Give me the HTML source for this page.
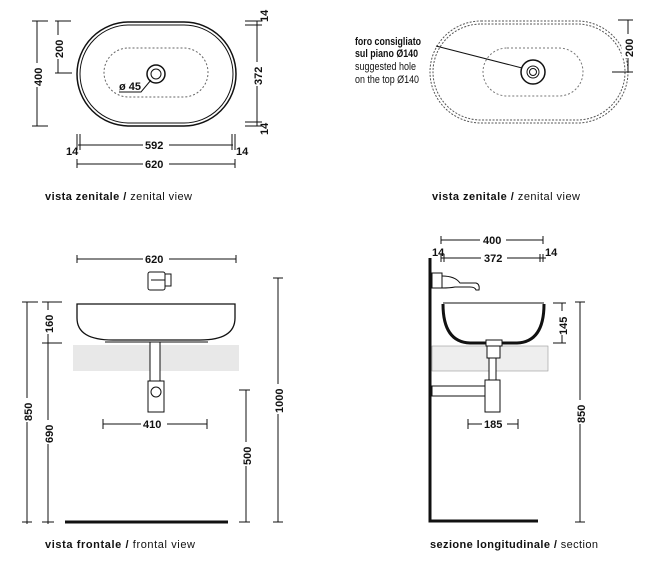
<!DOCTYPE html>
<html><head><meta charset="utf-8"><style>
body{margin:0;background:#fff;width:670px;height:565px;overflow:hidden}
text{font-family:"Liberation Sans",sans-serif;font-size:11px;fill:#111}
.b{font-weight:bold}
</style></head><body>
<svg width="670" height="565" viewBox="0 0 670 565" stroke="#111" fill="none" stroke-width="1">
<!-- TOP LEFT -->
<rect x="77" y="22" width="159" height="104" rx="52" stroke-width="1.5"/>
<rect x="80" y="25" width="153" height="98" rx="49"/>
<rect x="104" y="48" width="104" height="49" rx="24.5" stroke-dasharray="2,2" stroke="#666"/>
<circle cx="156" cy="74" r="9" stroke-width="1.5"/><circle cx="156" cy="74" r="5"/>
<polyline points="119,92 141,92 151,80"/>
<text x="119" y="90" stroke="none" class="b" font-size="12">ø 45</text>
<line x1="37" y1="21" x2="37" y2="126"/><line x1="32" y1="21" x2="48" y2="21"/><line x1="32" y1="126" x2="48" y2="126"/>
<line x1="58" y1="21" x2="58" y2="73"/><line x1="55" y1="21" x2="71" y2="21"/><line x1="55" y1="73" x2="72" y2="73"/>
<line x1="257" y1="21" x2="257" y2="126"/><line x1="245" y1="21" x2="262" y2="21"/><line x1="245" y1="25" x2="262" y2="25"/><line x1="245" y1="122" x2="262" y2="122"/><line x1="245" y1="126" x2="262" y2="126"/>
<line x1="78" y1="145" x2="233" y2="145"/><line x1="77" y1="134" x2="77" y2="150"/><line x1="80" y1="134" x2="80" y2="150"/><line x1="232" y1="134" x2="232" y2="150"/><line x1="235" y1="134" x2="235" y2="150"/>
<line x1="77" y1="164" x2="235" y2="164"/><line x1="77" y1="159" x2="77" y2="168"/><line x1="235" y1="159" x2="235" y2="168"/>
<g stroke="none">
<rect x="31" y="63" width="12" height="24" fill="#fff"/><rect x="52" y="35" width="12" height="24" fill="#fff"/><rect x="251" y="62" width="12" height="24" fill="#fff"/>
<rect x="143" y="139" width="26" height="12" fill="#fff"/><rect x="143" y="158" width="26" height="12" fill="#fff"/>
<text transform="translate(42,86) rotate(-90)" class="b">400</text>
<text transform="translate(63,58) rotate(-90)" class="b">200</text>
<text transform="translate(262,85) rotate(-90)" class="b">372</text>
<text transform="translate(268,22) rotate(-90)" class="b" font-size="9">14</text>
<text transform="translate(268,135) rotate(-90)" class="b" font-size="9">14</text>
<text x="145" y="149" class="b">592</text><text x="145" y="168" class="b">620</text>
<text x="66" y="155" class="b" font-size="9">14</text><text x="236" y="155" class="b" font-size="9">14</text>
<text x="45" y="200" class="b" font-size="12" textLength="147">vista zenitale /<tspan font-weight="normal"> zenital view</tspan></text>
</g>
<!-- TOP RIGHT -->
<rect x="430" y="21" width="198" height="102" rx="51" stroke-dasharray="2,1.5" stroke="#555"/>
<rect x="433" y="24" width="192" height="96" rx="48" stroke-dasharray="2,1.5" stroke="#555"/>
<rect x="483" y="48" width="100" height="48" rx="24" stroke-dasharray="2,2" stroke="#777"/>
<circle cx="533" cy="72" r="12" stroke-width="1.5"/><circle cx="533" cy="72" r="6"/><circle cx="533" cy="72" r="3.5"/>
<line x1="436" y1="46" x2="522" y2="68"/>
<line x1="628" y1="20" x2="628" y2="72"/><line x1="618" y1="20" x2="633" y2="20"/><line x1="612" y1="72" x2="633" y2="72"/>
<g stroke="none">
<rect x="622" y="34" width="12" height="24" fill="#fff"/>
<text transform="translate(633,57) rotate(-90)" class="b">200</text>
<text x="355" y="45" class="b" font-size="9.5" textLength="66" lengthAdjust="spacingAndGlyphs">foro consigliato</text>
<text x="355" y="57" class="b" font-size="9.5" textLength="63" lengthAdjust="spacingAndGlyphs">sul piano Ø140</text>
<text x="355" y="70" font-size="9.5" textLength="61" lengthAdjust="spacingAndGlyphs">suggested hole</text>
<text x="355" y="83" font-size="9.5" textLength="64" lengthAdjust="spacingAndGlyphs">on the top Ø140</text>
<text x="432" y="200" class="b" font-size="12" textLength="148">vista zenitale /<tspan font-weight="normal"> zenital view</tspan></text>
</g>
<!-- FRONTAL -->
<line x1="77" y1="259" x2="236" y2="259"/><line x1="77" y1="255" x2="77" y2="263"/><line x1="236" y1="255" x2="236" y2="263"/>
<rect x="148" y="272" width="17" height="18" rx="2"/><rect x="165" y="274" width="6" height="12"/><line x1="151" y1="280" x2="165" y2="280"/>
<path d="M77,304 H235 V318 Q235,340 200,340 H113 Q77,340 77,318 Z" stroke-width="1.3"/>
<line x1="105" y1="342" x2="208" y2="342"/>
<rect x="73" y="345" width="166" height="26" fill="#e8e8e8" stroke="none"/>
<rect x="150" y="342" width="10" height="40" fill="#fff"/>
<rect x="148" y="381" width="16" height="31" fill="#fff"/><circle cx="156" cy="392" r="5"/>
<line x1="103" y1="424" x2="207" y2="424"/><line x1="103" y1="419" x2="103" y2="429"/><line x1="207" y1="419" x2="207" y2="429"/>
<line x1="65" y1="522" x2="228" y2="522" stroke-width="3"/>
<line x1="27" y1="302" x2="27" y2="524"/><line x1="22" y1="302" x2="38" y2="302"/><line x1="22" y1="522" x2="32" y2="522"/>
<line x1="48" y1="302" x2="48" y2="524"/><line x1="42" y1="302" x2="62" y2="302"/><line x1="42" y1="343" x2="62" y2="343"/><line x1="42" y1="522" x2="54" y2="522"/>
<line x1="246" y1="390" x2="246" y2="522"/><line x1="239" y1="390" x2="250" y2="390"/><line x1="239" y1="522" x2="250" y2="522"/>
<line x1="278" y1="278" x2="278" y2="522"/><line x1="273" y1="278" x2="283" y2="278"/><line x1="273" y1="522" x2="283" y2="522"/>
<g stroke="none">
<rect x="143" y="253" width="26" height="12" fill="#fff"/><rect x="141" y="418" width="26" height="12" fill="#fff"/>
<rect x="21" y="398" width="12" height="24" fill="#fff"/><rect x="42" y="310" width="12" height="24" fill="#fff"/><rect x="42" y="420" width="12" height="24" fill="#fff"/>
<rect x="240" y="442" width="12" height="24" fill="#fff"/><rect x="272" y="384" width="12" height="30" fill="#fff"/>
<text x="145" y="263" class="b">620</text><text x="143" y="428" class="b">410</text>
<text transform="translate(32,421) rotate(-90)" class="b">850</text>
<text transform="translate(53,333) rotate(-90)" class="b">160</text>
<text transform="translate(53,443) rotate(-90)" class="b">690</text>
<text transform="translate(251,465) rotate(-90)" class="b">500</text>
<text transform="translate(283,413) rotate(-90)" class="b">1000</text>
<text x="45" y="548" class="b" font-size="12" textLength="150">vista frontale /<tspan font-weight="normal"> frontal view</tspan></text>
</g>
<!-- SECTION -->
<polyline points="430,258 430,521 538,521" stroke-width="3"/>
<line x1="441" y1="240" x2="543" y2="240"/><line x1="441" y1="236" x2="441" y2="244"/><line x1="543" y1="236" x2="543" y2="244"/>
<line x1="441" y1="258" x2="546" y2="258"/><line x1="441" y1="254" x2="441" y2="262"/><line x1="444" y1="254" x2="444" y2="262"/><line x1="540" y1="254" x2="540" y2="262"/><line x1="543" y1="254" x2="543" y2="262"/>
<rect x="432" y="273" width="10" height="15"/><path d="M442,276 Q455,276 460,283 L476,283 Q480,284 479,290 L476,290 Q475,287 470,287 L455,287 Q450,288 442,288"/>
<path d="M443,304 Q443,342 470,343 H517 Q544,342 544,304" stroke-width="3"/>
<line x1="443" y1="303" x2="544" y2="303"/>
<rect x="432" y="346" width="116" height="25" fill="#eee" stroke="#999" stroke-width="0.6"/>
<rect x="486" y="340" width="16" height="6" fill="#fff"/><rect x="487" y="346" width="13" height="12" fill="#fff"/>
<rect x="489" y="358" width="7" height="30" fill="#fff"/>
<rect x="432" y="386" width="53" height="10" fill="#fff"/>
<rect x="485" y="380" width="15" height="32" fill="#fff"/>
<line x1="468" y1="424" x2="518" y2="424"/><line x1="468" y1="419" x2="468" y2="429"/><line x1="518" y1="419" x2="518" y2="429"/>
<line x1="562" y1="303" x2="562" y2="343"/><line x1="553" y1="303" x2="566" y2="303"/><line x1="553" y1="343" x2="566" y2="343"/>
<line x1="580" y1="302" x2="580" y2="522"/><line x1="575" y1="302" x2="585" y2="302"/><line x1="575" y1="522" x2="585" y2="522"/>
<g stroke="none">
<rect x="480" y="234" width="26" height="12" fill="#fff"/><rect x="481" y="252" width="26" height="12" fill="#fff"/>
<rect x="482" y="418" width="25" height="12" fill="#fff"/><rect x="556" y="311" width="12" height="24" fill="#fff"/><rect x="574" y="400" width="12" height="24" fill="#fff"/>
<text x="483" y="244" class="b">400</text><text x="484" y="262" class="b">372</text><text x="484" y="428" class="b">185</text>
<text x="432" y="256" class="b" font-size="9">14</text><text x="545" y="256" class="b" font-size="9">14</text>
<text transform="translate(567,335) rotate(-90)" class="b">145</text>
<text transform="translate(585,423) rotate(-90)" class="b">850</text>
<text x="430" y="548" class="b" font-size="12" textLength="168">sezione longitudinale /<tspan font-weight="normal"> section</tspan></text>
</g>
</svg>
</body></html>
